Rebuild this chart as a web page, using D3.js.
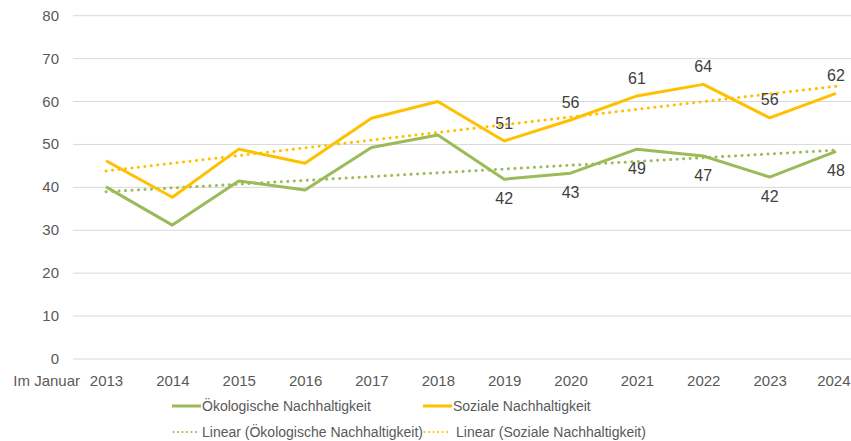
<!doctype html>
<html>
<head>
<meta charset="utf-8">
<script src="https://d3js.org/d3.v7.min.js"></script>
<style>
body { margin: 0; background: #fff; }
svg text { font-family: 'Liberation Sans', Arial, sans-serif; fill: #595959; }
</style>
</head>
<body>
<div id="chart"></div>
<script>
// values (Im Januar, 2013-2024)
var years = ["2013","2014","2015","2016","2017","2018","2019","2020","2021","2022","2023","2024"];
var oeko = [40.1, 31.2, 41.5, 39.4, 49.3, 52.2, 41.9, 43.3, 48.9, 47.3, 42.4, 48.4];
var sozial = [46.2, 37.7, 48.9, 45.6, 56.1, 60.0, 50.8, 55.7, 61.3, 64.0, 56.2, 61.9];
var labelFrom = "2019"; // data labels shown from this year on
var yTicks = [0, 10, 20, 30, 40, 50, 60, 70, 80];
var seriesNames = ["Ökologische Nachhaltigkeit", "Soziale Nachhaltigkeit"];

var green = "#9bbb59", yellow = "#ffc000";
var width = 851, height = 441;

var svg = d3.select("#chart").append("svg")
  .attr("width", width).attr("height", height);

var x = d3.scalePoint().domain(years).range([106, 836]);
var y = d3.scaleLinear().domain([0, 80]).range([359, 15.7]);

// gridlines
svg.append("g").selectAll("line")
  .data(yTicks).enter().append("line")
  .attr("x1", 73).attr("x2", width)
  .attr("y1", function(d){ return y(d); })
  .attr("y2", function(d){ return y(d); })
  .attr("stroke", "#d9d9d9").attr("stroke-width", 1);

// y axis labels
var yAxis = svg.append("g")
  .attr("transform", "translate(67,0)")
  .call(d3.axisLeft(y).tickValues(yTicks).tickSize(0).tickPadding(8));
yAxis.select(".domain").remove();
yAxis.selectAll("text").style("font-size", "15px").attr("fill", "#595959").attr("dy", "0.3em");

// x axis labels
var xAxis = svg.append("g")
  .attr("transform", "translate(0,381)")
  .call(d3.axisBottom(x).tickSize(0).tickPadding(0));
xAxis.select(".domain").remove();
xAxis.selectAll("text").style("font-size", "15px").attr("fill", "#595959").attr("dy", "0.35em");
// last label sits at the right edge, keep it inside
xAxis.selectAll(".tick").filter(function(d){ return d === years[years.length-1]; })
  .select("text").attr("text-anchor", "end").attr("x", width - 1 - x(years[years.length-1]));

svg.append("text")
  .attr("x", 80).attr("y", 381)
  .attr("dy", "0.35em")
  .attr("text-anchor", "end")
  .style("font-size", "15px")
  .text("Im Januar");

// linear trend (least squares, like Excel trendline)
function trend(vals) {
  var n = vals.length, xs = d3.range(n);
  var mx = d3.mean(xs), my = d3.mean(vals);
  var num = d3.sum(xs, function(i){ return (i - mx) * (vals[i] - my); });
  var den = d3.sum(xs, function(i){ return (i - mx) * (i - mx); });
  var b = num / den, a = my - b * mx;
  return [[years[0], a], [years[n-1], a + b * (n - 1)]];
}

var line = d3.line()
  .x(function(d){ return x(d[0]); })
  .y(function(d){ return y(d[1]); });

function pairs(vals) { return years.map(function(yr, i){ return [yr, vals[i]]; }); }

var series = [
  {vals: oeko, color: green, labelDy: 19},
  {vals: sozial, color: yellow, labelDy: -18}
];

series.forEach(function(s){
  svg.append("path")
    .datum(trend(s.vals))
    .attr("d", line)
    .attr("fill", "none")
    .attr("stroke", s.color)
    .attr("stroke-width", 3)
    .attr("stroke-linecap", "round")
    .attr("stroke-dasharray", "0.1,6.4");
});

series.forEach(function(s){
  svg.append("path")
    .datum(pairs(s.vals))
    .attr("d", line)
    .attr("fill", "none")
    .attr("stroke", s.color)
    .attr("stroke-width", 3)
    .attr("stroke-linejoin", "round");
});

series.forEach(function(s){
  svg.append("g").selectAll("text")
    .data(pairs(s.vals).filter(function(d){ return +d[0] >= +labelFrom; }))
    .enter().append("text")
    .attr("x", function(d){ return x(d[0]); })
    .attr("y", function(d){ return y(d[1]) + s.labelDy; })
    .attr("dy", "0.35em")
    .attr("text-anchor", "middle")
    .style("font-size", "16px")
    .style("fill", "#404040")
    .text(function(d){ return d3.format(".0f")(d[1]); });
});

// legend
var legendItems = [
  {label: seriesNames[0], color: green, dotted: false, x: 172, y: 406},
  {label: seriesNames[1], color: yellow, dotted: false, x: 423, y: 406},
  {label: "Linear (" + seriesNames[0] + ")", color: green, dotted: true, x: 172, y: 432},
  {label: "Linear (" + seriesNames[1] + ")", color: yellow, dotted: true, x: 423, y: 432}
];

var lg = svg.append("g").selectAll("g")
  .data(legendItems).enter().append("g")
  .attr("transform", function(d){ return "translate(" + d.x + "," + d.y + ")"; });

lg.append("line")
  .attr("x1", function(d){ return d.dotted ? 1.5 : 0; })
  .attr("x2", function(d){ return d.dotted ? 26 : 29; })
  .attr("stroke", function(d){ return d.color; })
  .attr("stroke-width", function(d){ return d.dotted ? 2 : 3; })
  .attr("stroke-linecap", function(d){ return d.dotted ? "round" : "butt"; })
  .attr("stroke-dasharray", function(d){ return d.dotted ? "0.1,4.4" : null; });

lg.append("text")
  .attr("x", function(d){ return d.dotted && d.color === yellow ? 33 : 30; })
  .attr("dy", "0.35em")
  .style("font-size", "14px")
  .text(function(d){ return d.label; });
</script>
</body>
</html>
